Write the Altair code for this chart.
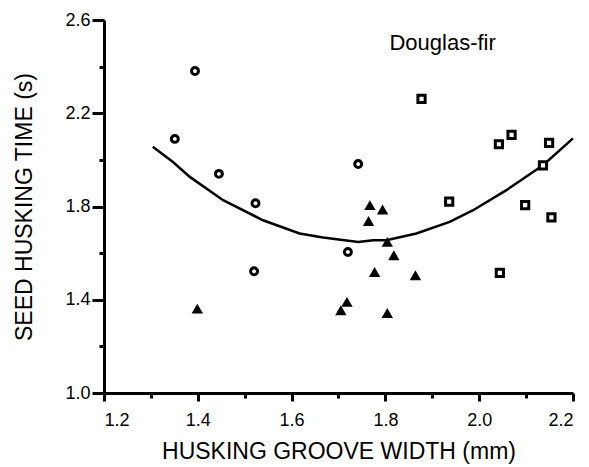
import altair as alt
import pandas as pd

# ---- data ----
circle_x = [1.394, 1.351, 1.445, 1.523, 1.520, 1.742, 1.720]
circle_y = [2.381, 2.090, 1.940, 1.814, 1.522, 1.982, 1.605]

tri_x = [1.399, 1.767, 1.794, 1.764, 1.804, 1.818, 1.777, 1.864, 1.718, 1.705, 1.804]
tri_y = [1.362, 1.806, 1.787, 1.738, 1.648, 1.591, 1.519, 1.505, 1.391, 1.355, 1.343]

sq_x = [1.877, 2.042, 2.069, 2.149, 2.136, 1.936, 2.098, 2.154, 2.044]
sq_y = [2.262, 2.067, 2.107, 2.073, 1.976, 1.821, 1.806, 1.753, 1.515]

curve_x = [1.304, 1.347, 1.383, 1.454, 1.539, 1.617, 1.667, 1.742, 1.774, 1.802,
           1.866, 1.937, 1.987, 2.058, 2.136, 2.200]
curve_y = [2.056, 1.991, 1.927, 1.827, 1.741, 1.684, 1.667, 1.648, 1.655, 1.655,
           1.684, 1.734, 1.784, 1.870, 1.977, 2.092]

x_major = [1.2, 1.4, 1.6, 1.8, 2.0, 2.2]
x_minor = [1.3, 1.5, 1.7, 1.9, 2.1]
y_major = [1.0, 1.4, 1.8, 2.2, 2.6]
y_minor = [1.2, 1.6, 2.0, 2.4]

label_text = ["Douglas-fir"]
label_x = [1.922]
label_y = [2.471]

x_title = "HUSKING   GROOVE   WIDTH   (mm)"
y_title = "SEED   HUSKING   TIME   (s)"

# ---- tables ----
circles = pd.DataFrame({"x": circle_x, "y": circle_y})
tris = pd.DataFrame({"x": tri_x, "y": tri_y})
squares = pd.DataFrame({"x": sq_x, "y": sq_y})
curve = pd.DataFrame({"x": curve_x, "y": curve_y})
labels = pd.DataFrame({"x": label_x, "y": label_y, "t": label_text})

FONT = "Liberation Sans"

x_scale = alt.Scale(domain=[1.2, 2.2], nice=False, zero=False)
y_scale = alt.Scale(domain=[1.0, 2.6], nice=False, zero=False)

x_axis = alt.Axis(
    values=x_major, title=x_title, format=".1f", orient="bottom",
    domainWidth=3, domainColor="black", tickWidth=3, tickColor="black", tickSize=8,
    labelFont=FONT, labelFontSize=18, labelColor="black", labelPadding=10,
    labelOverlap=False, grid=False,
    titleFont=FONT, titleFontSize=23, titleFontWeight="normal", titleColor="black",
    titlePadding=11,
)
y_axis = alt.Axis(
    values=y_major, title=y_title, format=".1f", orient="left",
    domainWidth=3, domainColor="black", tickWidth=3, tickColor="black", tickSize=12,
    labelFont=FONT, labelFontSize=18, labelColor="black",
    labelOverlap=False, grid=False,
    titleFont=FONT, titleFontSize=23, titleFontWeight="normal", titleColor="black",
    titlePadding=28,
)
x_axis_minor = alt.Axis(values=x_minor, title=None, labels=False, tickSize=5,
                        domain=False, orient="bottom", tickColor="black",
                        tickWidth=3, grid=False)
y_axis_minor = alt.Axis(values=y_minor, title=None, labels=False, tickSize=5,
                        domain=False, orient="left", tickColor="black",
                        tickWidth=3, grid=False)

line = alt.Chart(curve).mark_line(color="black", strokeWidth=2.5).encode(
    x=alt.X("x:Q", scale=x_scale, axis=x_axis),
    y=alt.Y("y:Q", scale=y_scale, axis=y_axis),
)

minor = alt.Chart(curve).mark_point(opacity=0).encode(
    x=alt.X("x:Q", scale=x_scale, axis=x_axis_minor),
    y=alt.Y("y:Q", scale=y_scale, axis=y_axis_minor),
)

enc = dict(x=alt.X("x:Q", axis=None), y=alt.Y("y:Q", axis=None))

circ = alt.Chart(circles).mark_point(
    shape="circle", size=48, filled=False, fill="white", fillOpacity=1,
    stroke="black", strokeWidth=3, opacity=1,
).encode(**enc)

tri = alt.Chart(tris).mark_point(
    shape="triangle-up", size=130, filled=True, color="black", opacity=1,
).encode(**enc)

sq = alt.Chart(squares).mark_point(
    shape="square", size=52, filled=False, fill="white", fillOpacity=1,
    stroke="black", strokeWidth=3, opacity=1,
).encode(**enc)

txt = alt.Chart(labels).mark_text(
    font=FONT, fontSize=22, color="black", align="center", baseline="alphabetic",
).encode(text="t:N", **enc)

chart = (
    alt.layer(line, minor, circ, tri, sq, txt)
    .resolve_axis(x="independent", y="independent")
    .properties(
        width=469, height=373,
        autosize=alt.AutoSizeParams(type="none"),
        padding={"left": 104, "top": 20, "right": 16, "bottom": 74},
    )
    .configure_view(stroke=None)
)

chart.save("out.html", embed_options={"renderer": "svg", "actions": False})
